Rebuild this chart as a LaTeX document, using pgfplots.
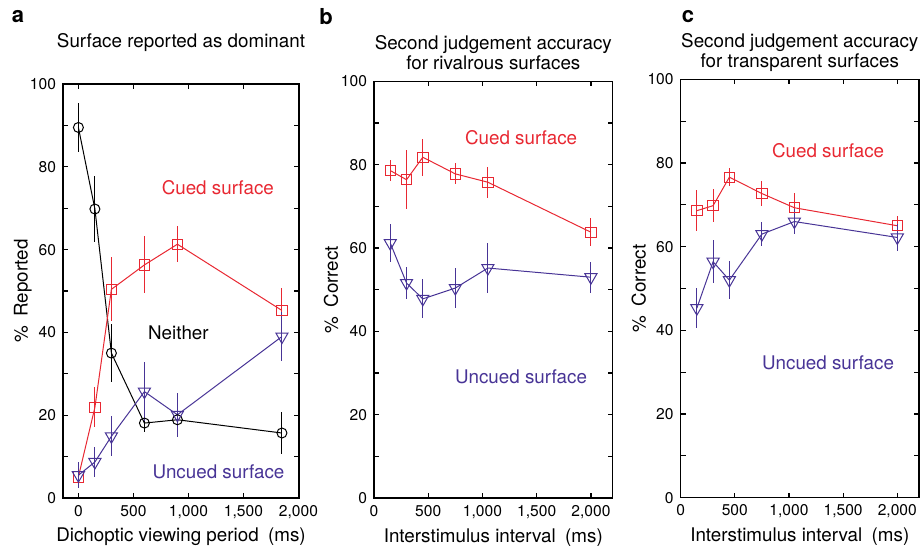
\documentclass[border=0pt]{standalone}
\usepackage{fontspec}
\setmainfont{TeX Gyre Heros}
\usepackage{pgfplots}
\pgfplotsset{compat=1.18}
\usepackage{pgfplotstable}

\definecolor{cued}{RGB}{232,40,50}
\definecolor{uncued}{RGB}{72,52,150}

% panel a
\pgfplotstableread{
x y e
0 89.5 6
150 69.8 8
300 35 7
600 18.1 2.2
900 18.9 3
1850 15.7 5
}\aNeither
\pgfplotstableread{
x y e
0 5.1 1.5
150 21.9 4.8
300 50.4 7.7
600 56.3 6.9
900 61.3 4.4
1850 45.3 5.4
}\aCued
\pgfplotstableread{
x y e
0 5.5 3.1
150 8.7 3.7
300 14.9 4.8
600 25.7 7.2
900 20.1 5.3
1850 39 6
}\aUncued
% panel b
\pgfplotstableread{
x y e
150 78.6 2.6
300 76.4 7.1
450 81.8 4.4
750 77.8 2.5
1050 75.8 3.7
2000 63.8 3.3
}\bCued
\pgfplotstableread{
x y e
150 61.2 4.6
300 51.6 3.8
450 47.8 4.7
750 50.4 4.8
1050 55.2 5.9
2000 53 3.7
}\bUncued
% panel c
\pgfplotstableread{
x y e
150 68.6 4.9
300 69.8 3.9
450 76.6 2.2
750 72.7 3
1050 69.3 3.6
2000 65 2.4
}\cCued
\pgfplotstableread{
x y e
150 45.3 4.8
300 56.4 5.2
450 52 4.6
750 63 2.8
1050 66 2.9
2000 62.2 3.3
}\cUncued

\pgfplotsset{
  panel/.style={
    scale only axis,
    ymin=0, ymax=100,
    ytick={0,20,...,100},
    minor ytick={10,30,...,90},
    xtick={0,500,1000,1500,2000},
    tick align=inside,
    major tick length=2.5pt,
    minor tick length=2.5pt,
    tick style={black, line width=0.6pt},
    axis line style={line width=0.6pt},
    ticklabel style={font=\fontsize{7.8}{8}\selectfont},
    /pgf/number format/1000 sep={,},
    /pgf/number format/assume math mode=true,
    scaled ticks=false,
    xlabel style={at={(axis description cs:0.5,-0.094)}, anchor=center},
    every axis title shift=0pt,
    title style={align=center, anchor=center},
    error bars/y dir=both,
    error bars/y explicit,
    error bars/error mark=none,
  },
  cuedline/.style={cued, line width=0.5pt, mark=square, mark size=2.6pt,
    mark options={solid, fill=none},
    error bars/error bar style={cued, line width=0.5pt}},
  uncuedline/.style={uncued, line width=0.5pt, mark=triangle, mark size=3.5pt,
    mark options={solid, fill=none, rotate=180},
    error bars/error bar style={uncued, line width=0.5pt}},
  neitherline/.style={black, line width=0.5pt, mark=o, mark size=2.5pt,
    mark options={solid, fill=none},
    error bars/error bar style={black, line width=0.5pt}},
}

\begin{document}
\begin{tikzpicture}[font=\fontsize{9.4}{10}\selectfont]
\path[use as bounding box] (0,0) rectangle (461pt,276.5pt);

% a
\begin{axis}[panel,
  at={(31.5pt,27.5pt)}, anchor=south west,
  width=118pt, height=207pt,
  xmin=-140, xmax=2005,
  title={Surface reported as dominant},
  title style={at={(axis description cs:0.5,1.099)}},
  xlabel={Dichoptic viewing period\enspace(ms)},
  ylabel={\%\enspace Reported},
  ylabel style={at={(axis description cs:-0.17,0.5)}, anchor=center},
]
\addplot[neitherline] table[x=x, y=y, y error=e] {\aNeither};
\addplot[cuedline] table[x=x, y=y, y error=e] {\aCued};
\addplot[uncuedline] table[x=x, y=y, y error=e] {\aUncued};
\node[cued] at (axis cs:1267,75) {Cued surface};
\node[black] at (axis cs:909,39.8) {Neither};
\node[uncued] at (axis cs:1273,6.4) {Uncued surface};
\end{axis}

% b
\begin{axis}[panel,
  at={(187pt,27.5pt)}, anchor=south west,
  width=119.3pt, height=208.3pt,
  xmin=0, xmax=2200,
  title={Second judgement accuracy\\for rivalrous surfaces},
  title style={at={(axis description cs:0.5,1.069)}},
  xlabel={Interstimulus interval\enspace(ms)},
  ylabel={\%\enspace Correct},
  ylabel style={at={(axis description cs:-0.18,0.5)}, anchor=center},
]
\addplot[cuedline] table[x=x, y=y, y error=e] {\bCued};
\addplot[uncuedline] table[x=x, y=y, y error=e] {\bUncued};
\node[cued] at (axis cs:1356,86.6) {Cued surface};
\node[uncued] at (axis cs:1356,29.2) {Uncued surface};
\end{axis}

% c
\begin{axis}[panel,
  at={(340.3pt,27.65pt)}, anchor=south west,
  width=119.2pt, height=209.2pt,
  xmin=0, xmax=2200,
  title={Second judgement accuracy\\for transparent surfaces},
  title style={at={(axis description cs:0.5,1.063)}},
  xlabel={Interstimulus interval\enspace(ms)},
  ylabel={\%\enspace Correct},
  ylabel style={at={(axis description cs:-0.175,0.5)}, anchor=center},
]
\addplot[cuedline] table[x=x, y=y, y error=e] {\cCued};
\addplot[uncuedline] table[x=x, y=y, y error=e] {\cUncued};
\node[cued] at (axis cs:1361,82.9) {Cued surface};
\node[uncued] at (axis cs:1361,32.3) {Uncued surface};
\end{axis}

% panel letters
\node[font=\fontsize{11}{12}\selectfont\bfseries] at (9pt,268pt) {a};
\node[font=\fontsize{11}{12}\selectfont\bfseries] at (163pt,268pt) {b};
\node[font=\fontsize{11}{12}\selectfont\bfseries] at (344pt,268pt) {c};
\end{tikzpicture}
\end{document}
